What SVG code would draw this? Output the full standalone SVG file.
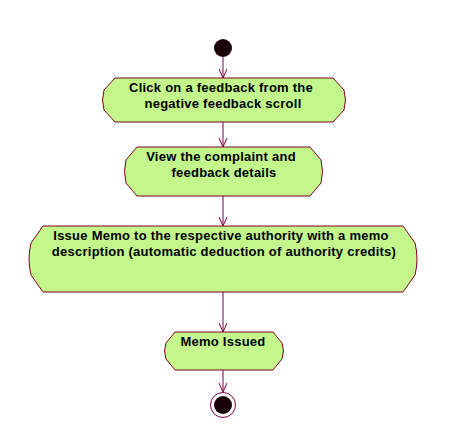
<svg xmlns="http://www.w3.org/2000/svg" width="454" height="446" viewBox="0 0 454 446">
<style>
.act{fill:#c3f78b;stroke:#800020;stroke-width:1}
.t{font-family:"Liberation Sans",Arial,sans-serif;font-weight:bold;font-size:13px;letter-spacing:0.25px;fill:#000;text-anchor:middle}
.c{stroke:#800040;stroke-width:1;fill:none}
</style>
<defs>
<marker id="ah" markerWidth="12" markerHeight="12" refX="10" refY="5" orient="auto" markerUnits="userSpaceOnUse" viewBox="0 0 12 10">
<path d="M1,1 L10,5 L1,9" fill="none" stroke="#800040" stroke-width="1"/>
</marker>
</defs>
<rect width="454" height="446" fill="#fff"/>
<g id="connectors">
<line class="c" x1="223" y1="57" x2="223" y2="78" marker-end="url(#ah)"/>
<line class="c" x1="223" y1="122" x2="223" y2="147" marker-end="url(#ah)"/>
<line class="c" x1="223" y1="196" x2="223" y2="226" marker-end="url(#ah)"/>
<line class="c" x1="223" y1="292" x2="223" y2="332" marker-end="url(#ah)"/>
<line class="c" x1="223" y1="370" x2="223" y2="392" marker-end="url(#ah)"/>
</g>
<g id="start">
<circle cx="223" cy="48" r="9" fill="#1a0008"/>
</g>
<g id="n1">
<path class="act" d="M115,78 H333 L344,90 Q347,100 344,110 L333,122 H115 L104,110 Q101,100 104,90 Z"/>
<text class="t" x="221" y="92">Click on a feedback from the</text>
<text class="t" x="223" y="108">negative feedback scroll</text>
</g>
<g id="n2">
<path class="act" d="M137,147 H310 L321,160 Q324,171.5 321,183 L310,196 H137 L126,183 Q123,171.5 126,160 Z"/>
<text class="t" x="221" y="161">View the complaint and</text>
<text class="t" x="224" y="177">feedback details</text>
</g>
<g id="n3">
<path class="act" d="M43,226 H403 L415,243 Q419,259 415,275 L403,292 H43 L31,275 Q27,259 31,243 Z"/>
<text class="t" x="221" y="240">Issue Memo to the respective authority with a memo</text>
<text class="t" x="224" y="256">description (automatic deduction of authority credits)</text>
</g>
<g id="n4">
<path class="act" d="M175,332 H273 L282,343 Q285,351 282,359 L273,370 H175 L166,359 Q163,351 166,343 Z"/>
<text class="t" x="223" y="346">Memo Issued</text>
</g>
<g id="end">
<circle cx="223" cy="405" r="12.5" fill="#fff" stroke="#800040" stroke-width="1"/>
<circle cx="223" cy="405" r="9" fill="#1a0008"/>
</g>
</svg>
